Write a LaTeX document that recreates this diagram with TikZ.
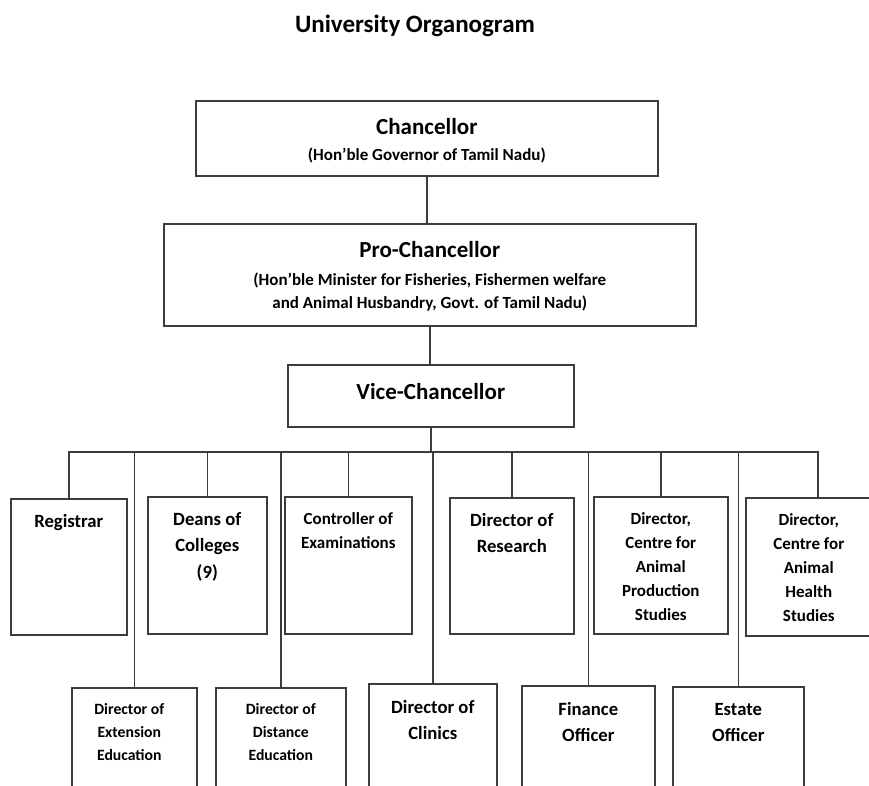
\documentclass[tikz,border=0pt]{standalone}
\usepackage{fontspec}
\setmainfont{Carlito}
\usepackage{tikz}
\usetikzlibrary{positioning}
\definecolor{linegray}{RGB}{60,60,60}
\newcommand{\orgTitle}{\fontsize{25}{30}\selectfont\bfseries}
\newcommand{\orgHead}{\fontsize{23}{28}\selectfont\bfseries}
\newcommand{\orgNote}{\fontsize{17}{23.5}\selectfont\bfseries}
\newcommand{\orgMid}{\fontsize{18.7}{26.5}\selectfont\bfseries}
\newcommand{\orgSmall}{\fontsize{17}{24}\selectfont\bfseries}
\newcommand{\orgTiny}{\fontsize{15.7}{23}\selectfont\bfseries}
\tikzstyle{post} = [draw=linegray, line width=1.6pt, rectangle, anchor=north west, inner sep=0pt]
\tikzstyle{txt} = [align=center, inner sep=0pt, anchor=north]
\tikzstyle{link} = [draw=linegray, line width=1.6pt]
\tikzstyle{junction} = [coordinate]

\begin{document}
\begin{tikzpicture}[x=1pt, y=-1pt]
  \useasboundingbox (0,0) rectangle (869,785);
  \clip (0,0) rectangle (869,785);

  \node [anchor=base, font=\orgTitle] (title) at (415,32) {University Organogram};

  % top of the chart
  \node [post, minimum width=462pt, minimum height=75pt] (chan) at (195,100) {};
  \node [post, minimum width=532pt, minimum height=102pt] (pro) at (163,223) {};
  \node [post, minimum width=286pt, minimum height=62pt] (vc) at (287,364) {};
  \node [txt, below=18pt of chan.north, font=\orgNote] (chan-t) {{\orgHead Chancellor}\\[3pt](Hon’ble Governor of Tamil Nadu)};
  \node [txt, below=18pt of pro.north, font=\orgNote] (pro-t) {{\orgHead Pro-Chancellor}\\[4.5pt](Hon’ble Minister for Fisheries, Fishermen welfare\\and Animal Husbandry, Govt. of Tamil Nadu)};
  \node [txt, below=19pt of vc.north, font=\orgHead] (vc-t) {Vice-Chancellor};

  % first row
  \node [post, minimum width=116pt, minimum height=136pt] (reg) at (10,498) {};
  \node [post, minimum width=119pt, minimum height=137pt] (deans) at (147,496) {};
  \node [post, minimum width=127pt, minimum height=137pt] (ctrl) at (284,496) {};
  \node [post, minimum width=124pt, minimum height=136pt] (res) at (449,497) {};
  \node [post, minimum width=134pt, minimum height=137pt] (prod) at (593,496) {};
  \node [post, minimum width=144pt, minimum height=138pt] (health) at (745,497) {};
  \node [txt, below=16pt of reg.north, font=\orgMid] (reg-t) {Registrar};
  \node [txt, below=16pt of deans.north, font=\orgMid] (deans-t) {Deans of\\Colleges\\(9)};
  \node [txt, below=16pt of ctrl.north, font=\orgSmall] (ctrl-t) {Controller of\\Examinations};
  \node [txt, below=16pt of res.north, font=\orgMid] (res-t) {Director of\\Research};
  \node [txt, below=16pt of prod.north, font=\orgSmall] (prod-t) {Director,\\Centre for\\Animal\\Production\\Studies};
  \node [txt, below=16pt of health.north, xshift=-9pt, font=\orgSmall] (health-t) {Director,\\Centre for\\Animal\\Health\\Studies};

  % second row
  \node [post, minimum width=125pt, minimum height=130pt] (ext) at (71,687) {};
  \node [post, minimum width=130pt, minimum height=130pt] (dist) at (215,687) {};
  \node [post, minimum width=128pt, minimum height=130pt] (clin) at (368,683) {};
  \node [post, minimum width=133pt, minimum height=130pt] (fin) at (521,685) {};
  \node [post, minimum width=131pt, minimum height=130pt] (est) at (672,686) {};
  \node [txt, below=16pt of ext.north, xshift=-5pt, font=\orgTiny] (ext-t) {Director of\\Extension\\Education};
  \node [txt, below=16pt of dist.north, font=\orgTiny] (dist-t) {Director of\\Distance\\Education};
  \node [txt, below=17pt of clin.north, font=\orgMid] (clin-t) {Director of\\Clinics};
  \node [txt, below=17pt of fin.north, font=\orgMid] (fin-t) {Finance\\Officer};
  \node [txt, below=17pt of est.north, font=\orgMid] (est-t) {Estate\\Officer};

  % connectors
  \node [junction] (bus) at (430,452) {};
  \draw [link] (chan.south) -- (chan.south |- pro.north);
  \draw [link] (pro.south) -- (pro.south |- vc.north);
  \draw [link] (vc.south) -- (vc.south |- bus);
  \draw [link] (reg.north) -- (reg.north |- bus) -- (health.north |- bus) -- (health.north);
  \draw [link] (bus -| ext.north) -- (ext.north);
  \draw [link] (bus -| deans.north) -- (deans.north);
  \draw [link] (bus -| dist.north) -- (dist.north);
  \draw [link] (bus -| ctrl.north) -- (ctrl.north);
  \draw [link] (bus -| clin.north) -- (clin.north);
  \draw [link] (bus -| res.north) -- (res.north);
  \draw [link] (bus -| fin.north) -- (fin.north);
  \draw [link] (bus -| prod.north) -- (prod.north);
  \draw [link] (bus -| est.north) -- (est.north);
\end{tikzpicture}
\end{document}
